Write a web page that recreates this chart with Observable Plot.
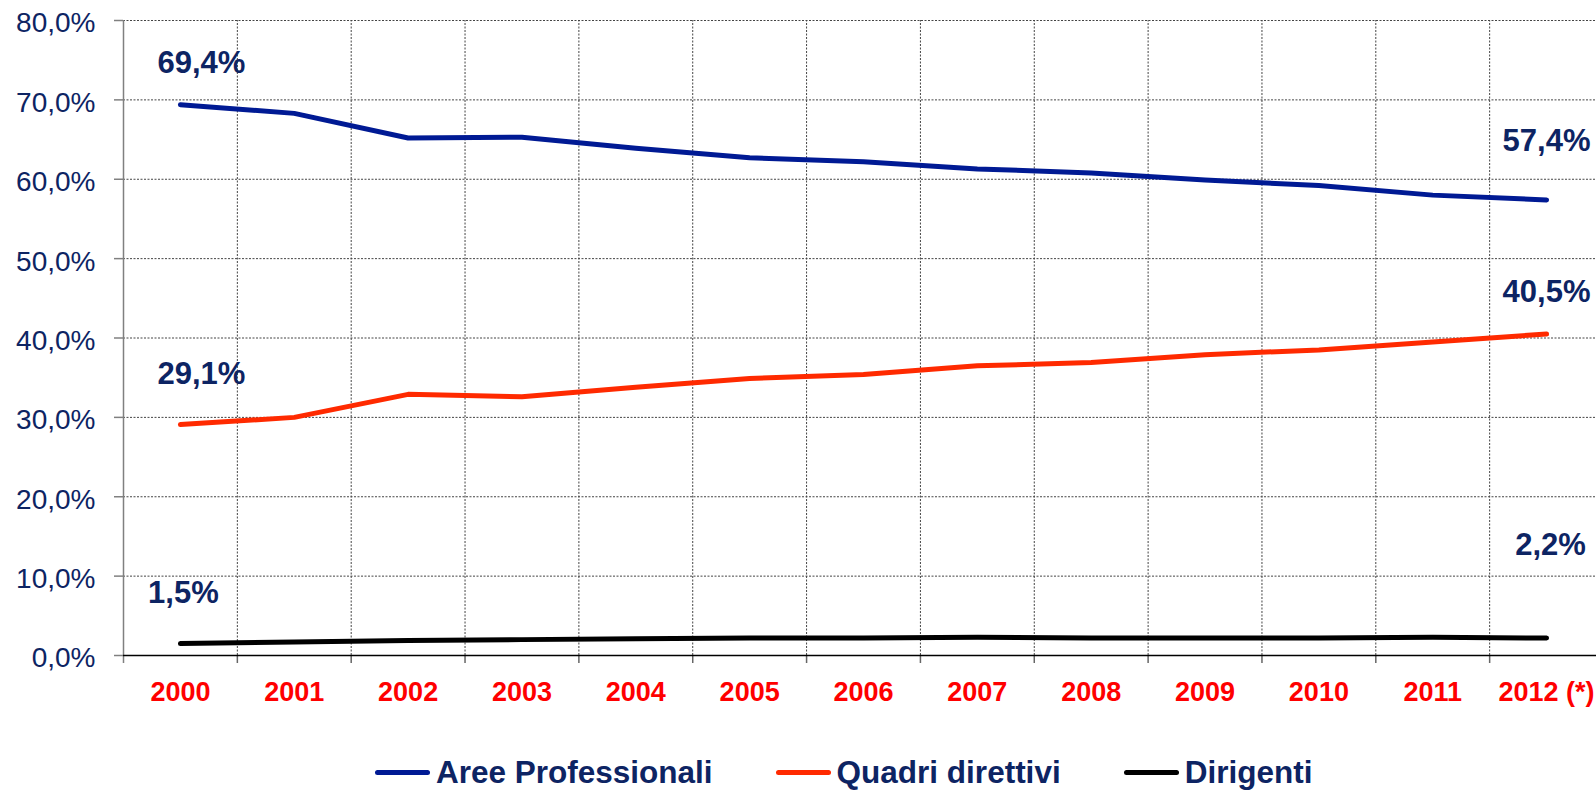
<!DOCTYPE html>
<html>
<head>
<meta charset="utf-8">
<script src="https://cdn.jsdelivr.net/npm/d3@7"></script>
<script src="https://cdn.jsdelivr.net/npm/@observablehq/plot@0.6"></script>
<style>
  html, body { margin: 0; padding: 0; background: #fff; }
  body { width: 1596px; height: 790px; position: relative; overflow: hidden; font-family: "Liberation Sans", Arial, sans-serif; }
  #legend { position: absolute; left: 375px; top: 757px; display: flex; align-items: center; }
  .item { display: flex; align-items: center; margin-right: 63px; }
  .sw { width: 55px; height: 5px; border-radius: 3px; margin-right: 6px; }
  .lt { font-size: 31.5px; line-height: 1; font-weight: bold; color: #0d2463; white-space: nowrap; }
</style>
</head>
<body>
<div id="chart"></div>
<div id="legend"></div>
<script>
const years = [2000, 2001, 2002, 2003, 2004, 2005, 2006, 2007, 2008, 2009, 2010, 2011, 2012];
const yearLabels = ["2000", "2001", "2002", "2003", "2004", "2005", "2006", "2007", "2008", "2009", "2010", "2011", "2012 (*)"];
const seriesNames = ["Aree Professionali", "Quadri direttivi", "Dirigenti"];
const aree = [69.4, 68.3, 65.2, 65.3, 63.9, 62.7, 62.2, 61.3, 60.8, 59.9, 59.2, 58.0, 57.4];
const quadri = [29.1, 30.0, 32.9, 32.6, 33.8, 34.9, 35.4, 36.5, 36.9, 37.9, 38.5, 39.5, 40.5];
const dirigenti = [1.5, 1.7, 1.9, 2.0, 2.1, 2.2, 2.2, 2.3, 2.2, 2.2, 2.2, 2.3, 2.2];
const yTicks = [0, 10, 20, 30, 40, 50, 60, 70, 80];

const colors = {"Aree Professionali": "#001a94", "Quadri direttivi": "#ff2a00", "Dirigenti": "#000000"};
const navy = "#0d2463";
const fmt = v => v.toFixed(1).replace(".", ",") + "%";

const values = [aree, quadri, dirigenti];
const rows = [];
seriesNames.forEach((s, i) => years.forEach((y, j) => rows.push({series: s, year: y, value: values[i][j]})));

const labels = [];
seriesNames.forEach((s, i) => {
  labels.push({series: s, year: years[0], value: values[i][0], pos: "start"});
  labels.push({series: s, year: years[years.length - 1], value: values[i][years.length - 1], pos: "end"});
});
const offsets = {
  "Aree Professionali|start": [21, -42], "Aree Professionali|end": [0, -59],
  "Quadri direttivi|start": [21, -50], "Quadri direttivi|end": [0, -42],
  "Dirigenti|start": [3, -51], "Dirigenti|end": [4, -93]
};

const x0 = years[0] - 0.5, x1 = years[years.length - 1] + 0.5;
const pxPerYear = 1480 / (x1 - x0);
const pxPerPct = 635 / 80;
const tickX = 9 / pxPerYear;
const tickY = 8 / pxPerPct;
const boundaries = years.slice(0, -1).map(y => y + 0.5);

const chart = Plot.plot({
  width: 1596,
  height: 730,
  marginLeft: 123,
  marginRight: 0,
  marginTop: 20,
  marginBottom: 75,
  x: {domain: [x0, x1], range: [123, 1603], axis: null},
  y: {domain: [0, 80], range: [655, 20], axis: null},
  style: {fontFamily: "'Liberation Sans', Arial, sans-serif", background: "white", overflow: "visible"},
  marks: [
    Plot.ruleY(yTicks.filter(d => d > 0), {x1: x0, x2: x1, stroke: "#444", strokeWidth: 1, strokeDasharray: "2,1.5"}),
    Plot.ruleX(boundaries, {y1: 0, y2: 80, stroke: "#444", strokeWidth: 1, strokeDasharray: "2,1.5"}),
    Plot.ruleX(boundaries, {y1: 0, y2: -tickY, stroke: "#666", strokeWidth: 1.5}),
    Plot.ruleY(yTicks, {x1: x0 - tickX, x2: x0, stroke: "#808080", strokeWidth: 1.5}),
    Plot.ruleX([x0], {y1: -tickY, y2: 80, stroke: "#808080", strokeWidth: 1.5}),
    Plot.ruleY([0], {x1: x0, x2: x1, stroke: "#000", strokeWidth: 1.5}),
    Plot.text(yTicks, {x: x0, y: d => d, text: d => fmt(d), textAnchor: "end", dx: -28, dy: 3, fontSize: 28, fill: navy}),
    Plot.text(years, {x: d => d, y: 0, text: (d, i) => yearLabels[i], dy: 37, fontSize: 27, fontWeight: "bold", fill: "#ff0000"}),
    Plot.line(rows, {x: "year", y: "value", z: "series", stroke: d => colors[d.series], strokeWidth: 5, curve: "linear", strokeLinecap: "round", strokeLinejoin: "round"}),
    ...labels.map(l => Plot.text([l], {
      x: "year", y: "value", text: d => fmt(d.value),
      dx: offsets[l.series + "|" + l.pos][0], dy: offsets[l.series + "|" + l.pos][1],
      fontSize: 31, fontWeight: "bold", fill: navy
    }))
  ]
});
document.getElementById("chart").appendChild(chart);

const legend = document.getElementById("legend");
seriesNames.forEach(s => {
  const it = document.createElement("div");
  it.className = "item";
  const sw = document.createElement("div");
  sw.className = "sw";
  sw.style.background = colors[s];
  const t = document.createElement("span");
  t.className = "lt";
  t.textContent = s;
  it.appendChild(sw);
  it.appendChild(t);
  legend.appendChild(it);
});
</script>
</body>
</html>
